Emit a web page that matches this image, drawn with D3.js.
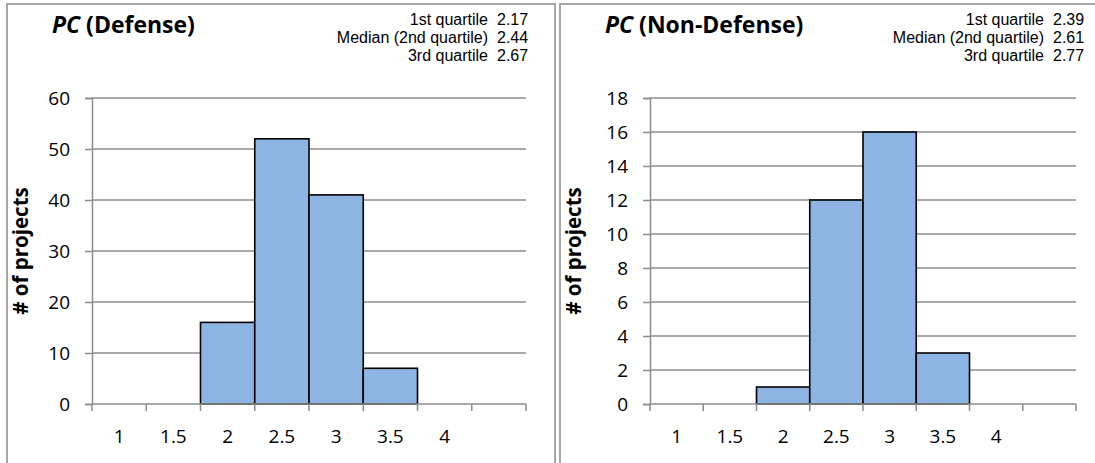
<!DOCTYPE html>
<html><head><meta charset="utf-8">
<script src="https://cdn.jsdelivr.net/npm/d3@7"></script>
<style>
body{margin:0;background:#fff;}
svg text{font-family:"Open Sans",sans-serif;fill:#000;}
svg text.stat{font-family:"Liberation Sans",Arial,sans-serif;}
</style></head>
<body><svg id="chart" width="1095" height="463"></svg>
<script>
const binLabels = ["1","1.5","2","2.5","3","3.5","4",""];
const defenseCounts = [0,0,16,52,41,7,0,0];
const nonDefenseCounts = [0,0,1,12,16,3,0,0];
const defenseTicks = [0,10,20,30,40,50,60];
const nonDefenseTicks = [0,2,4,6,8,10,12,14,16,18];
const statLabels = ["1st quartile","Median (2nd quartile)","3rd quartile"];
const defenseStats = ["2.17","2.44","2.67"];
const nonDefenseStats = ["2.39","2.61","2.77"];

const svg = d3.select("#chart");
const gridColor = "#8c8c8c";

function panel(opt){
  const g = svg.append("g");
  g.append("rect").attr("x",opt.px0).attr("y",4).attr("width",opt.px1-opt.px0).attr("height",480)
    .attr("fill","none").attr("stroke","#a6a6a6").attr("stroke-width",2);

  const x = d3.scaleBand().domain(binLabels.map((d,i)=>i)).range([opt.x0,opt.x1]).padding(0);
  const y = d3.scaleLinear().domain([0,opt.ymax]).range([404,98]);

  g.append("g").selectAll("line").data(opt.ticks.filter(t=>t>0)).join("line")
    .attr("x1",opt.x0).attr("x2",opt.x1).attr("y1",d=>y(d)).attr("y2",d=>y(d))
    .attr("stroke",gridColor).attr("stroke-width",1.5);

  const ya = g.append("g").attr("transform",`translate(${opt.x0},0)`)
    .call(d3.axisLeft(y).tickValues(opt.ticks).tickSize(7).tickPadding(15).tickFormat(d3.format("d")));
  ya.attr("font-family",null).attr("font-size",null);
  ya.select(".domain").attr("stroke",gridColor).attr("stroke-width",1.5);
  ya.selectAll(".tick line").attr("stroke",gridColor).attr("stroke-width",1.5);
  ya.selectAll("text").attr("font-size",19).attr("dy","0.35em").attr("fill","#000");

  g.append("g").selectAll("rect").data(opt.counts).join("rect")
    .attr("x",(d,i)=>x(i)).attr("width",x.bandwidth())
    .attr("y",d=>y(d)).attr("height",d=>y(0)-y(d))
    .attr("fill","#8eb4e3").attr("stroke","#000").attr("stroke-width",1.6)
    .attr("display",d=>d>0?null:"none");

  g.append("line").attr("x1",opt.x0).attr("x2",opt.x1).attr("y1",y(0)).attr("y2",y(0))
    .attr("stroke",gridColor).attr("stroke-width",1.5);
  const bounds = d3.range(binLabels.length+1).map(i=>opt.x0+i*x.bandwidth());
  g.append("g").selectAll("line").data(bounds).join("line")
    .attr("x1",d=>d).attr("x2",d=>d).attr("y1",y(0)).attr("y2",y(0)+7)
    .attr("stroke",gridColor).attr("stroke-width",1.5);
  g.append("g").selectAll("text").data(binLabels).join("text")
    .attr("x",(d,i)=>x(i)+x.bandwidth()/2).attr("y",443)
    .attr("text-anchor","middle").attr("font-size",19).text(d=>d);

  g.append("text").attr("transform",`translate(${opt.px0+21},251) rotate(-90)`)
    .attr("text-anchor","middle").attr("font-size",20.5).attr("font-weight","bold").text("# of projects");

  const t = g.append("text").attr("x",opt.px0+45).attr("y",33).attr("font-size",23).attr("font-weight","bold");
  t.append("tspan").attr("font-style","italic").text("PC");
  t.append("tspan").text(" (" + opt.name + ")");

  g.append("g").selectAll("text").data(statLabels).join("text").attr("class","stat")
    .attr("x",opt.statX).attr("y",(d,i)=>24.5+i*18).attr("text-anchor","end").attr("font-size",16).text(d=>d);
  g.append("g").selectAll("text").data(opt.stats).join("text").attr("class","stat")
    .attr("x",opt.statX+9).attr("y",(d,i)=>24.5+i*18).attr("font-size",16).text(d=>d);
}

panel({px0:7,px1:555,x0:92,x1:526,ymax:60,ticks:defenseTicks,counts:defenseCounts,name:"Defense",stats:defenseStats,statX:488});
panel({px0:560,px1:1110,x0:650,x1:1076,ymax:18,ticks:nonDefenseTicks,counts:nonDefenseCounts,name:"Non-Defense",stats:nonDefenseStats,statX:1044});
</script></body></html>
